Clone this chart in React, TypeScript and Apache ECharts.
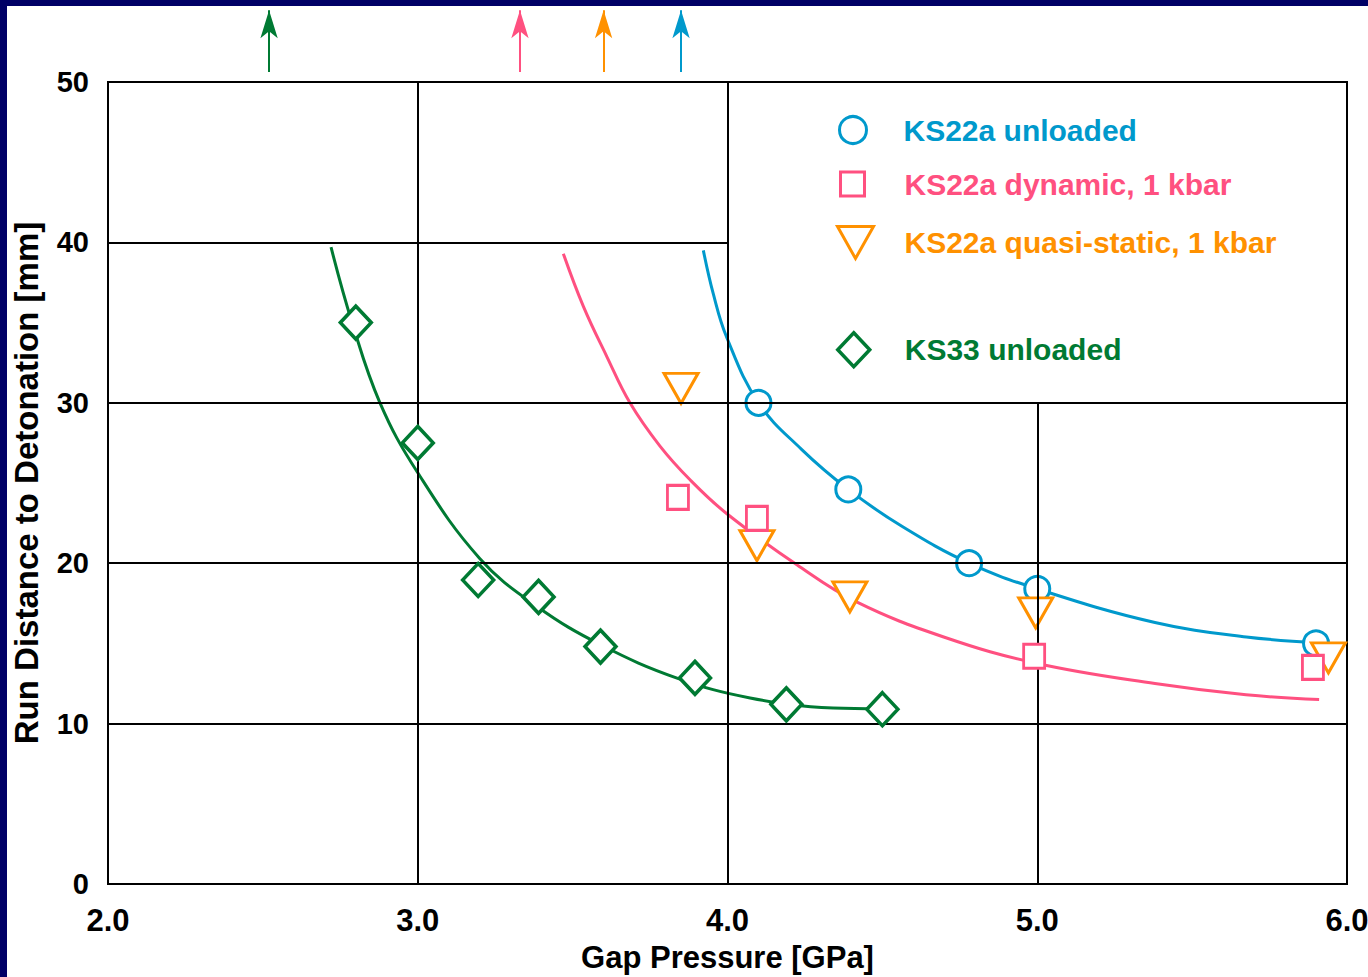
import React, { useEffect, useRef } from "react";
import * as echarts from "echarts";

const FONT = "'Liberation Sans', Arial, Helvetica, sans-serif";
const NAVY = "#000066";
const BLUE = "#0099cc";
const PINK = "#ff5080";
const ORANGE = "#ff9100";
const GREEN = "#007a33";

// Axis ranges / ticks
const xMin = 2;
const xMax = 6;
const xStep = 1;
const yMin = 0;
const yMax = 50;
const yStep = 10;

// Measured points
const ks22aUnloadedP = [4.1, 4.39, 4.78, 5.0, 5.9];
const ks22aUnloadedR = [30.0, 24.6, 20.0, 18.4, 15.0];

const ks22aDynamicP = [3.84, 4.095, 4.99, 5.89];
const ks22aDynamicR = [24.1, 22.8, 14.2, 13.5];

const ks22aQuasiP = [3.85, 4.095, 4.395, 4.995, 5.94];
const ks22aQuasiR = [30.9, 21.1, 17.9, 16.9, 14.1];

const ks33P = [2.8, 3.0, 3.195, 3.39, 3.59, 3.895, 4.19, 4.5];
const ks33R = [35.0, 27.5, 18.95, 17.9, 14.8, 12.85, 11.2, 10.9];

// Fitted curves
const fitBlueP = [3.922, 3.954, 3.997, 4.1, 4.239, 4.39, 4.563, 4.78, 5.0, 5.38, 5.675, 5.905];
const fitBlueR = [39.5, 36.8, 34.1, 30.0, 27.1, 24.6, 22.3, 20.0, 18.4, 16.3, 15.4, 15.05];

const fitPinkP = [3.47, 3.535, 3.61, 3.685, 3.782, 3.879, 3.997, 4.224, 4.415, 4.698, 5.0, 5.38, 5.674, 5.91];
const fitPinkR = [39.3, 36.0, 32.9, 30.0, 27.3, 25.2, 23.1, 19.9, 17.6, 15.4, 13.75, 12.5, 11.8, 11.5];

const fitGreenP = [2.72, 2.788, 2.878, 2.998, 3.2, 3.385, 3.592, 3.837, 4.073, 4.341, 4.496];
const fitGreenR = [39.7, 35.0, 30.0, 25.7, 20.3, 17.3, 14.9, 12.84, 11.6, 10.97, 10.92];

// Grid segments [x1, y1, x2, y2]
const gridSegments = [
  [3, 0, 3, 50],
  [4, 0, 4, 50],
  [5, 0, 5, 30],
  [2, 10, 6, 10],
  [2, 20, 6, 20],
  [2, 30, 6, 30],
  [2, 40, 4, 40],
];

// Arrows above the chart (gap pressure markers)
const arrowP = [2.52, 3.33, 3.6, 3.85];
const arrowColors = [GREEN, PINK, ORANGE, BLUE];
const arrowBase = 1.3;
const arrowTop = 9.45;

const zip = (a: number[], b: number[]) => a.map((v, i) => [v, b[i]]);

export default function App() {
  const ref = useRef<HTMLDivElement>(null);

  useEffect(() => {
    if (!ref.current) return;
    const chart = echarts.init(ref.current, undefined, { renderer: "svg" });

    const labelStyle = { fontFamily: FONT, fontWeight: "bold" as const, fontSize: 31, color: "#000" };
    const legendText = (c: string, pad: number[]) => ({
      fontFamily: FONT,
      fontWeight: "bold" as const,
      fontSize: 30,
      color: c,
      padding: pad,
    });

    const option: any = {
      animation: false,
      backgroundColor: "#ffffff",
      grid: [
        {
          left: 101,
          right: 21,
          top: 76,
          bottom: 93,
          show: true,
          borderColor: "#000",
          borderWidth: 2,
          backgroundColor: "transparent",
          containLabel: false,
          outerBoundsMode: "none",
        },
        { left: 101, right: 21, top: 0, height: 76, show: false, containLabel: false, outerBoundsMode: "none" },
      ],
      xAxis: [
        {
          type: "value",
          gridIndex: 0,
          min: xMin,
          max: xMax,
          interval: xStep,
          splitLine: { show: false },
          axisTick: { show: false },
          axisLine: { show: false },
          axisLabel: { ...labelStyle, margin: 21, formatter: (v: number) => v.toFixed(1) },
          name: "Gap Pressure [GPa]",
          nameLocation: "middle",
          nameGap: 58,
          nameTextStyle: { fontFamily: FONT, fontWeight: "bold", fontSize: 31, color: "#000" },
        },
        { type: "value", gridIndex: 1, min: xMin, max: xMax, show: false },
      ],
      yAxis: [
        {
          type: "value",
          gridIndex: 0,
          min: yMin,
          max: yMax,
          interval: yStep,
          splitLine: { show: false },
          axisTick: { show: false },
          axisLine: { show: false },
          axisLabel: { ...labelStyle, fontSize: 29, margin: 19 },
          name: "Run Distance to Detonation [mm]",
          nameLocation: "middle",
          nameRotate: 90,
          nameGap: 65,
          nameTextStyle: { fontFamily: FONT, fontWeight: "bold", fontSize: 33, color: "#000" },
        },
        { type: "value", gridIndex: 1, min: 0, max: 10, show: false },
      ],
      legend: [
        {
          data: [{ name: "KS22a unloaded", textStyle: legendText(BLUE, [0, 0, 0, 32]) }],
          left: 831,
          top: 109,
          padding: 0,
          itemWidth: 27,
          itemHeight: 27,
          selectedMode: false,
          itemStyle: { borderWidth: 3 },
          textStyle: legendText(BLUE, [0, 0, 0, 32]),
        },
        {
          data: [{ name: "KS22a dynamic, 1 kbar", textStyle: legendText(PINK, [0, 0, 0, 35]) }],
          left: 832,
          top: 163,
          padding: 0,
          itemWidth: 24,
          itemHeight: 24,
          selectedMode: false,
          itemStyle: { borderWidth: 3 },
          textStyle: legendText(PINK, [0, 0, 0, 35]),
        },
        {
          data: [{ name: "KS22a quasi-static, 1 kbar", icon: "path://M0,0L36,0L18,32Z", textStyle: legendText(ORANGE, [0, 0, 0, 26]) }],
          left: 829,
          top: 219,
          padding: 0,
          itemWidth: 36,
          itemHeight: 32,
          selectedMode: false,
          itemStyle: { borderWidth: 3 },
          textStyle: legendText(ORANGE, [0, 0, 0, 26]),
        },
        {
          data: [{ name: "KS33 unloaded", textStyle: legendText(GREEN, [0, 0, 0, 30]) }],
          left: 829,
          top: 325,
          padding: 0,
          itemWidth: 32,
          itemHeight: 34,
          selectedMode: false,
          itemStyle: { borderWidth: 3.5 },
          textStyle: legendText(GREEN, [0, 0, 0, 30]),
        },
      ],
      series: [
        {
          name: "grid-lines",
          type: "line",
          xAxisIndex: 0,
          yAxisIndex: 0,
          data: [],
          z: 1,
          silent: true,
          markLine: {
            silent: true,
            symbol: ["none", "none"],
            label: { show: false },
            lineStyle: { color: "#000", width: 2, type: "solid" },
            emphasis: { disabled: true },
            data: gridSegments.map((s) => [{ coord: [s[0], s[1]] }, { coord: [s[2], s[3]] }]),
          },
        },
        {
          name: "arrows",
          type: "line",
          xAxisIndex: 1,
          yAxisIndex: 1,
          data: [],
          silent: true,
          markLine: {
            silent: true,
            symbol: ["none", "arrow"],
            symbolSize: [13, 28],
            label: { show: false },
            emphasis: { disabled: true },
            data: arrowP.map((p, i) => [
              { coord: [p, arrowBase], lineStyle: { color: arrowColors[i], width: 2, type: "solid" }, itemStyle: { color: arrowColors[i] } },
              { coord: [p, arrowTop], lineStyle: { color: arrowColors[i], width: 2, type: "solid" }, itemStyle: { color: arrowColors[i] } },
            ]),
          },
        },
        {
          name: "fit-blue",
          type: "line",
          smooth: 0.4,
          showSymbol: false,
          symbol: "none",
          data: zip(fitBlueP, fitBlueR),
          lineStyle: { color: BLUE, width: 3 },
          z: 2,
          silent: true,
        },
        {
          name: "fit-pink",
          type: "line",
          smooth: 0.4,
          showSymbol: false,
          symbol: "none",
          data: zip(fitPinkP, fitPinkR),
          lineStyle: { color: PINK, width: 3 },
          z: 2,
          silent: true,
        },
        {
          name: "fit-green",
          type: "line",
          smooth: 0.4,
          showSymbol: false,
          symbol: "none",
          data: zip(fitGreenP, fitGreenR),
          lineStyle: { color: GREEN, width: 3 },
          z: 2,
          silent: true,
        },
        {
          name: "KS22a unloaded",
          type: "scatter",
          symbol: "circle",
          symbolSize: 25,
          data: zip(ks22aUnloadedP, ks22aUnloadedR),
          itemStyle: { color: "#fff", borderColor: BLUE, borderWidth: 3, opacity: 1 },
          z: 3,
          clip: false,
        },
        {
          name: "KS22a quasi-static, 1 kbar",
          type: "scatter",
          symbol: "path://M0,0L36,0L18,32Z",
          symbolSize: [34, 30],
          data: zip(ks22aQuasiP, ks22aQuasiR),
          itemStyle: { color: "#fff", borderColor: ORANGE, borderWidth: 3, opacity: 1 },
          z: 4,
          clip: false,
        },
        {
          name: "KS22a dynamic, 1 kbar",
          type: "scatter",
          symbol: "rect",
          symbolSize: [21, 24],
          data: zip(ks22aDynamicP, ks22aDynamicR),
          itemStyle: { color: "#fff", borderColor: PINK, borderWidth: 3, opacity: 1 },
          z: 5,
          clip: false,
        },
        {
          name: "KS33 unloaded",
          type: "scatter",
          symbol: "diamond",
          symbolSize: [31, 33],
          data: zip(ks33P, ks33R),
          itemStyle: { color: "#fff", borderColor: GREEN, borderWidth: 3.5, opacity: 1 },
          z: 6,
          clip: false,
        },
      ],
    };

    chart.setOption(option);
    return () => chart.dispose();
  }, []);

  return (
    <div style={{ position: "absolute", left: 0, top: 0, width: 1368, height: 977, background: NAVY, overflow: "hidden" }}>
      <div ref={ref} style={{ position: "absolute", left: 7, top: 6, width: 1361, height: 971, background: "#fff" }} />
    </div>
  );
}
